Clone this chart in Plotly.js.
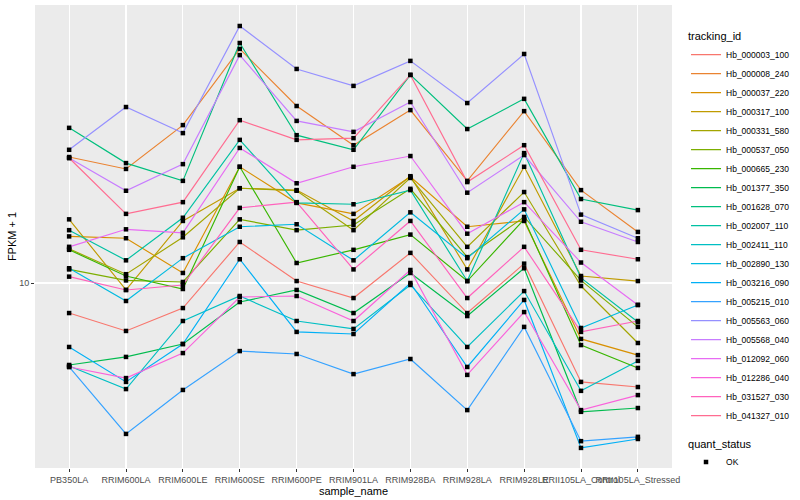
<!DOCTYPE html>
<html>
<head>
<meta charset="utf-8">
<script src="https://cdn.plot.ly/plotly-3.0.1.min.js"></script>
<style>html,body{margin:0;padding:0;background:#fff}#chart{width:800px;height:500px}</style>
</head>
<body>
<div id="chart"></div>
<script>
// ---- data (FPKM + 1) ----
const samples = ["PB350LA","RRIM600LA","RRIM600LE","RRIM600SE","RRIM600PE","RRIM901LA","RRIM928BA","RRIM928LA","RRIM928LE","RRII105LA_Control","RRII105LA_Stressed"];
const trackingIds = ["Hb_000003_100","Hb_000008_240","Hb_000037_220","Hb_000317_100","Hb_000331_580","Hb_000537_050","Hb_000665_230","Hb_001377_350","Hb_001628_070","Hb_002007_110","Hb_002411_110","Hb_002890_130","Hb_003216_090","Hb_005215_010","Hb_005563_060","Hb_005568_040","Hb_012092_060","Hb_012286_040","Hb_031527_030","Hb_041327_010"];
const colors = ["#F8766D","#EA8331","#D89000","#C09B00","#A3A500","#7CAE00","#39B600","#00BB4E","#00BF7D","#00C1A3","#00BFC4","#00BAE0","#00B0F6","#35A2FF","#9590FF","#C77CFF","#E76BF3","#FA62DB","#FF62BC","#FF6C91"];

const hb000003_100 = [7.94, 6.92, 8.25, 13.7, 10.15, 8.91, 12.6, 7.94, 11.6, 4.68, 4.50];
const hb000008_240 = [26.3, 24.0, 33.6, 60.3, 38.9, 28.8, 37.7, 21.9, 37.4, 20.4, 14.8];
const hb000037_220 = [14.3, 14.1, 10.8, 24.4, 18.5, 17.0, 22.6, 15.4, 16.1, 6.51, 5.75];
const hb000317_100 = [16.3, 9.48, 16.1, 20.7, 20.4, 16.1, 22.7, 11.1, 24.4, 10.55, 10.15];
const hb000331_580 = [13.0, 10.7, 14.2, 20.7, 20.3, 15.0, 22.4, 13.2, 20.1, 9.77, 6.31];
const hb000537_050 = [11.1, 10.2, 10.08, 16.3, 15.0, 15.6, 20.6, 12.2, 16.6, 10.2, 7.14];
const hb000665_230 = [12.9, 10.55, 9.55, 24.4, 11.66, 12.9, 14.5, 10.15, 16.3, 6.21, 5.21];
const hb001377_350 = [5.33, 5.67, 6.26, 8.64, 9.48, 7.94, 10.8, 7.76, 11.2, 3.72, 3.83];
const hb001628_070 = [32.9, 25.1, 21.9, 63.1, 31.1, 27.8, 49.4, 32.6, 41.1, 19.05, 17.5];
const hb002007_110 = [15.0, 11.9, 16.5, 30.0, 18.5, 18.3, 20.4, 10.15, 27.1, 10.4, 7.41];
const hb002411_110 = [5.29, 4.43, 7.47, 9.05, 7.47, 7.03, 9.85, 6.12, 9.40, 4.37, 5.50];
const hb002890_130 = [11.2, 8.71, 12.1, 15.4, 15.7, 11.9, 17.2, 12.1, 17.6, 7.08, 8.45];
const hb003216_090 = [6.12, 4.68, 6.26, 12.0, 6.87, 6.76, 10.0, 5.25, 8.78, 2.82, 3.02];
const hb005215_010 = [5.25, 3.14, 4.40, 5.93, 5.80, 4.97, 5.58, 3.77, 7.14, 2.97, 3.07];
const hb005563_060 = [27.8, 38.6, 31.6, 71.9, 51.7, 45.4, 55.0, 39.8, 58.0, 16.9, 14.1];
const hb005568_040 = [26.1, 20.3, 24.9, 57.5, 34.7, 31.9, 40.1, 20.0, 26.7, 16.0, 13.7];
const hb012092_060 = [13.2, 15.1, 14.7, 28.2, 21.5, 24.4, 26.5, 14.6, 18.6, 11.7, 8.45];
const hb012286_040 = [5.25, 4.82, 5.84, 8.98, 9.05, 7.47, 11.05, 4.94, 8.00, 3.77, 4.23];
const hb031527_030 = [10.5, 9.48, 9.85, 17.8, 18.6, 11.1, 16.1, 8.91, 13.2, 6.87, 7.47];
const hb041327_010 = [26.1, 17.0, 18.6, 34.9, 30.0, 30.4, 49.4, 21.7, 28.8, 12.9, 12.0];

const yTickVals = [10];
const yTickText = ["10"];

const seriesValues = [hb000003_100, hb000008_240, hb000037_220, hb000317_100, hb000331_580, hb000537_050, hb000665_230, hb001377_350, hb001628_070, hb002007_110, hb002411_110, hb002890_130, hb003216_090, hb005215_010, hb005563_060, hb005568_040, hb012092_060, hb012286_040, hb031527_030, hb041327_010];

const traces = seriesValues.map((vals, i) => ({
  type: "scatter", mode: "lines", x: samples, y: vals,
  name: trackingIds[i], legend: "legend",
  line: {color: colors[i], width: 1.15},
  hoverinfo: "x+y+name"
}));

// points layer (quant_status = OK)
const px = [], py = [];
seriesValues.forEach(vals => vals.forEach((v, j) => { px.push(samples[j]); py.push(v); }));
traces.push({
  type: "scatter", mode: "markers", x: px, y: py, name: "OK", legend: "legend2",
  marker: {symbol: "square", size: 4.5, color: "#000000"}, hoverinfo: "x+y"
});

const FONT = "Liberation Sans, Arial, Helvetica, sans-serif";
const layout = {
  width: 800, height: 500,
  margin: {l: 35, r: 117, t: 5, b: 32},
  paper_bgcolor: "#FFFFFF", plot_bgcolor: "#EBEBEB",
  font: {family: FONT, color: "#000000", size: 11},
  showlegend: true,
  xaxis: {
    type: "category", range: [-0.6, samples.length - 0.4],
    showgrid: true, gridcolor: "#FFFFFF", gridwidth: 1.1,
    zeroline: false, showline: false,
    ticks: "outside", ticklen: 3, tickcolor: "#333333", tickwidth: 1,
    tickangle: 0, tickfont: {size: 9, color: "#4D4D4D", family: FONT},
    automargin: false,
    title: {text: "sample_name", font: {size: 11, color: "#000000"}, standoff: 0}
  },
  yaxis: {
    type: "log", range: [0.3833, 1.9267],
    tickvals: yTickVals, ticktext: yTickText,
    showgrid: true, gridcolor: "#FFFFFF", gridwidth: 1.1,
    zeroline: false, showline: false,
    ticks: "outside", ticklen: 3, tickcolor: "#333333", tickwidth: 1,
    tickfont: {size: 9, color: "#4D4D4D", family: FONT},
    automargin: false,
    title: {text: "FPKM + 1", font: {size: 11, color: "#000000"}, standoff: 0}
  },
  legend: {
    title: {text: "tracking_id", font: {size: 11, color: "#000000"}},
    x: 1.022, xanchor: "left", y: 0.955, yanchor: "top",
    font: {size: 8.5, color: "#000000"}, bgcolor: "rgba(0,0,0,0)",
    itemwidth: 30, tracegroupgap: 0
  },
  legend2: {
    title: {text: "quant_status", font: {size: 11, color: "#000000"}},
    x: 1.022, xanchor: "left", y: 0.075, yanchor: "top",
    font: {size: 8.5, color: "#000000"}, bgcolor: "rgba(0,0,0,0)",
    itemwidth: 30
  }
};

Plotly.newPlot("chart", traces, layout, {displayModeBar: false, staticPlot: true});
</script>
</body>
</html>
